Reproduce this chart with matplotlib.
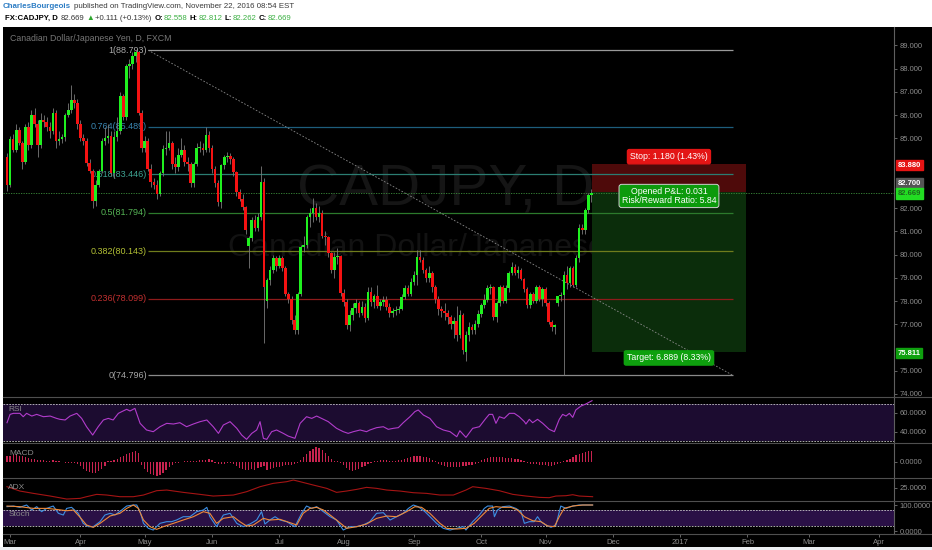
import numpy as np
import pandas as pd
import matplotlib
matplotlib.use('Agg')
import matplotlib.pyplot as plt
import matplotlib.transforms as mtrans
from matplotlib.patches import Rectangle

plt.rcParams['font.family'] = ['Liberation Sans', 'DejaVu Sans']

# ---------------- data ----------------
start_date = '2016-02-29'
opens = [84.20, 83.00, 84.95, 84.50, 85.35, 84.80, 84.00, 85.50, 84.70, 86.00,
         85.60, 84.70, 85.80, 85.70, 85.50, 85.30, 86.10, 84.90, 84.95, 85.05,
         86.00, 86.20, 86.65, 86.50, 85.60, 85.00, 84.90, 83.95, 83.60, 82.30,
         83.00, 83.60, 84.90, 85.00, 85.10, 83.50, 85.05, 85.30, 86.80, 85.90,
         88.10, 88.20, 88.55, 88.70, 86.10, 84.60, 84.90, 83.70, 83.10, 83.00,
         82.60, 83.50, 84.55, 84.60, 84.80, 83.90, 83.75, 84.30, 84.50, 84.00,
         83.90, 83.07, 83.90, 84.57, 84.60, 84.50, 85.14, 84.57, 83.70, 83.07,
         82.27, 83.85, 84.20, 84.25, 84.10, 83.56, 82.70, 82.40, 82.05, 80.35,
         80.70, 81.50, 81.14, 81.60, 83.13, 78.00, 78.90, 79.33, 79.85, 79.50,
         79.85, 79.40, 78.30, 78.10, 77.20, 76.77, 78.30, 80.33, 80.40, 81.62,
         81.80, 82.00, 81.60, 81.80, 80.80, 80.75, 80.06, 79.33, 79.90, 79.95,
         78.34, 77.97, 76.96, 77.40, 77.70, 77.90, 77.50, 77.75, 77.25, 78.40,
         77.95, 78.20, 77.80, 77.95, 78.05, 77.75, 77.50, 77.55, 77.60, 77.65,
         78.18, 78.56, 78.30, 78.83, 79.10, 79.90, 79.77, 79.33, 79.00, 79.20,
         78.60, 78.10, 77.66, 77.55, 77.47, 77.30, 77.00, 77.15, 76.53, 77.40,
         75.80, 76.53, 76.90, 76.75, 77.00, 77.46, 77.82, 78.05, 78.56, 78.60,
         77.30, 77.90, 78.60, 78.00, 78.56, 79.20, 79.47, 79.20, 79.35, 78.96,
         78.50, 77.82, 78.30, 78.00, 78.60, 78.10, 78.50, 77.90, 77.10, 76.88,
         77.90, 78.20, 78.26, 79.10, 78.77, 79.40, 78.70, 79.85, 81.14, 81.05,
         81.90, 82.558]
highs = [84.35, 85.10, 85.20, 85.60, 85.50, 84.90, 85.60, 85.70, 86.20, 86.30,
         85.80, 86.10, 86.00, 85.90, 85.70, 86.30, 86.20, 85.30, 85.20, 86.10,
         86.50, 87.30, 86.90, 86.70, 85.80, 85.20, 85.00, 84.10, 83.70, 83.20,
         83.70, 85.00, 85.50, 85.60, 85.30, 85.30, 85.90, 87.00, 86.90, 88.20,
         88.40, 88.70, 88.79, 88.75, 86.20, 85.10, 85.00, 83.90, 83.30, 83.20,
         83.60, 84.70, 85.30, 85.30, 84.90, 84.20, 84.60, 85.00, 84.70, 84.20,
         84.00, 84.00, 84.80, 84.90, 84.80, 85.50, 85.30, 84.70, 83.80, 83.20,
         83.90, 84.30, 84.40, 84.35, 84.20, 83.60, 82.80, 82.60, 82.10, 80.80,
         81.60, 81.70, 81.80, 83.80, 83.30, 79.00, 79.50, 80.00, 79.95, 80.00,
         79.95, 79.50, 78.40, 78.20, 77.40, 78.40, 80.40, 80.80, 81.70, 82.00,
         82.43, 82.20, 82.10, 81.90, 81.00, 80.80, 80.10, 80.10, 80.30, 80.00,
         78.50, 78.10, 77.60, 77.90, 78.10, 78.00, 78.00, 77.90, 78.60, 78.60,
         78.30, 78.70, 78.10, 78.20, 78.20, 77.90, 77.70, 77.80, 77.80, 78.30,
         78.70, 78.70, 79.00, 79.30, 80.20, 80.20, 79.90, 79.40, 79.50, 79.30,
         78.70, 78.20, 77.80, 77.90, 77.60, 77.40, 77.30, 77.80, 77.60, 77.50,
         76.70, 77.10, 77.00, 77.20, 77.60, 77.90, 78.30, 78.70, 78.75, 78.65,
         78.00, 78.70, 78.70, 78.70, 79.30, 79.70, 79.60, 79.50, 79.40, 79.00,
         78.60, 78.40, 78.40, 78.70, 78.70, 78.60, 78.60, 78.00, 77.20, 77.00,
         78.20, 78.40, 79.30, 79.50, 79.50, 79.50, 80.00, 81.30, 81.30, 82.00,
         82.65, 82.812]
lows = [82.75, 82.90, 84.40, 84.40, 84.70, 83.70, 83.90, 84.50, 84.60, 85.50,
        84.20, 84.60, 85.50, 85.30, 85.00, 85.20, 84.60, 84.70, 84.80, 84.90,
        85.90, 86.10, 86.30, 85.40, 84.90, 84.70, 83.80, 83.50, 82.00, 82.10,
        82.90, 83.50, 84.70, 84.80, 83.40, 83.30, 84.90, 85.20, 85.80, 85.80,
        87.60, 88.00, 88.30, 86.00, 84.40, 84.40, 83.60, 82.90, 82.80, 82.40,
        82.50, 83.40, 84.30, 84.50, 83.70, 83.50, 83.60, 84.20, 83.80, 83.60,
        82.90, 82.90, 83.80, 84.40, 84.30, 84.40, 84.40, 83.50, 82.90, 82.10,
        82.00, 83.70, 84.00, 83.90, 83.40, 82.50, 82.30, 81.90, 80.90, 79.40,
        80.60, 81.00, 81.00, 81.50, 76.20, 77.70, 78.70, 79.20, 79.30, 79.40,
        79.30, 78.20, 77.90, 77.00, 76.60, 76.60, 78.20, 80.10, 80.30, 81.20,
        81.40, 81.50, 81.40, 80.70, 80.40, 79.90, 79.20, 79.00, 79.60, 78.20,
        77.80, 76.80, 76.70, 77.20, 77.50, 77.30, 77.40, 77.10, 77.20, 77.80,
        77.70, 77.70, 77.60, 77.80, 77.60, 77.30, 77.30, 77.40, 77.50, 77.60,
        78.10, 78.20, 78.20, 78.70, 78.70, 79.70, 79.20, 78.80, 78.80, 78.40,
        77.90, 77.40, 77.30, 77.20, 77.00, 76.80, 76.40, 76.30, 76.40, 75.70,
        75.40, 76.30, 76.60, 76.60, 76.90, 77.30, 77.70, 77.95, 78.30, 77.20,
        77.10, 77.80, 77.90, 77.90, 78.40, 79.10, 79.10, 79.00, 78.90, 78.40,
        77.70, 77.70, 77.90, 77.90, 78.00, 77.80, 77.80, 77.00, 76.70, 76.60,
        77.80, 78.00, 74.796, 78.50, 78.60, 78.60, 78.60, 79.70, 80.90, 80.90,
        81.80, 82.262]
closes = [83.00, 84.95, 84.50, 85.35, 84.80, 84.00, 85.50, 84.70, 86.00, 85.60,
          84.70, 85.80, 85.70, 85.50, 85.30, 86.10, 84.90, 84.95, 85.05, 86.00,
          86.20, 86.65, 86.50, 85.60, 85.00, 84.90, 83.95, 83.60, 82.30, 83.00,
          83.60, 84.90, 85.00, 85.10, 83.50, 85.05, 85.30, 86.80, 85.90, 88.10,
          88.20, 88.55, 88.70, 86.10, 84.60, 84.90, 83.70, 83.10, 83.00, 82.60,
          83.50, 84.55, 84.60, 84.80, 83.90, 83.75, 84.30, 84.50, 84.00, 83.90,
          83.07, 83.90, 84.57, 84.60, 84.50, 85.14, 84.57, 83.70, 83.07, 82.27,
          83.85, 84.20, 84.25, 84.10, 83.56, 82.70, 82.40, 82.05, 81.05, 80.70,
          81.50, 81.14, 81.60, 83.13, 78.60, 78.90, 79.33, 79.85, 79.50, 79.85,
          79.40, 78.30, 78.10, 77.20, 76.77, 78.30, 80.33, 80.40, 81.62, 81.80,
          82.00, 81.60, 81.80, 80.80, 80.75, 80.06, 79.33, 79.90, 79.95, 78.34,
          77.97, 76.96, 77.40, 77.70, 77.90, 77.50, 77.75, 77.25, 78.40, 77.95,
          78.20, 77.80, 77.95, 78.05, 77.75, 77.50, 77.55, 77.60, 77.65, 78.18,
          78.56, 78.30, 78.83, 79.10, 79.90, 79.77, 79.33, 79.00, 79.20, 78.60,
          78.10, 77.66, 77.55, 77.47, 77.30, 77.00, 77.15, 76.53, 77.40, 75.90,
          76.53, 76.90, 76.75, 77.00, 77.46, 77.82, 78.05, 78.56, 78.60, 77.30,
          77.90, 78.60, 78.00, 78.56, 79.20, 79.47, 79.20, 79.35, 78.96, 78.50,
          77.82, 78.30, 78.00, 78.60, 78.10, 78.50, 77.90, 77.10, 76.88, 76.95,
          78.20, 78.26, 79.10, 78.77, 79.40, 78.70, 79.85, 81.14, 81.05, 81.90,
          82.558, 82.669]

fib_ratios = [1, 0.764, 0.618, 0.5, 0.382, 0.236, 0]
fib_prices = [88.793, 85.489, 83.446, 81.794, 80.143, 78.099, 74.796]
fib_line_colors = ['#9a9a9a', '#1d5d7c', '#2b7d72', '#2c7a2c', '#6f7c1c', '#8e1b1b', '#8a8a8a']
fib_text_colors = ['#a8a8a8', '#3a86b2', '#3ea392', '#55b455', '#b2bf34', '#c23030', '#a8a8a8']

last_price = 82.669
entry_price = 82.700
stop_price = 83.880
target_price = 75.811
open_pnl = 0.031

rsi_x = [0, 1, 2.1, 4.2, 5.3, 6.4, 8.1, 9.7, 11.9, 14.1,
         16.2, 17.3, 19, 20.6, 22.8, 24.4, 26, 28, 29.8, 31.5,
         33.1, 34.7, 36.4, 37.5, 39.1, 40.2, 41.8, 43.5, 45.6, 47.8,
         50, 52.2, 54.4, 56.5, 58.7, 60.9, 63.1, 65.3, 67.4, 69.1,
         70.7, 72.9, 75.1, 76.7, 78.3, 80, 81.6, 82.7, 83.8, 84.9,
         86.5, 88.1, 90.3, 91.9, 94.1, 95.8, 97.9, 99.6, 101.2, 102.8,
         105, 107.7, 109.9, 111.5, 113.2, 115.4, 117.5, 118.6, 120.8, 123,
         124.6, 126.3, 127.9, 129.5, 131.7, 133.3, 134.4, 136.1, 138.2, 140.4,
         142.6, 144.8, 147, 148, 150, 152.2, 154.4, 156.5, 157.6, 158.7,
         159.8, 160.9, 162.5, 164.2, 165.8, 167.4, 169.1, 169.6, 170.7, 171.8,
         173.4, 175.1, 177.2, 178.9, 180.5, 181.6, 182.7, 183.8, 184.9, 185.9,
         187.6, 189.2, 191.2]
rsi_v = [49.6, 58.5, 59.6, 59.6, 56.0, 59.6, 56.7, 58.5, 56.0, 56.7,
         54.2, 53.2, 52.5, 56.7, 59.6, 54.2, 45.3, 36.4, 45.3, 52.5,
         54.2, 52.5, 59.6, 61.4, 63.9, 62.1, 64.9, 48.9, 41.8, 40.0,
         45.3, 48.9, 48.2, 49.6, 45.3, 48.2, 50.7, 52.5, 45.3, 38.2,
         47.1, 50.7, 43.6, 36.4, 31.8, 38.2, 41.8, 50.7, 32.9, 31.8,
         40.0, 41.8, 38.2, 35.3, 32.9, 48.9, 56.0, 54.2, 56.7, 54.2,
         50.7, 43.6, 40.0, 38.2, 40.0, 41.8, 40.0, 41.8, 44.3, 45.3,
         42.5, 43.6, 44.3, 49.6, 56.0, 61.4, 63.2, 57.8, 54.2, 45.3,
         41.8, 40.0, 34.6, 41.0, 33.9, 43.6, 45.3, 54.2, 58.5, 58.5,
         48.9, 56.0, 54.2, 59.6, 59.6, 56.0, 50.7, 48.2, 53.2, 49.6,
         53.2, 48.9, 42.5, 40.0, 53.2, 58.5, 56.7, 59.6, 55.3, 63.2,
         67.4, 69.6, 73.1]

macd_hist = [0.12, 0.12, 0.14, 0.14, 0.12, 0.12, 0.10, 0.08, 0.06, 0.06,
             0.04, 0.04, 0.04, 0.02, 0.02, 0.04, 0.02, 0.02,
             -0.01, -0.02, -0.02, -0.03, -0.02, -0.04,
             -0.08, -0.14, -0.18, -0.20, -0.22, -0.22, -0.18, -0.14, -0.08,
             0.01, 0.02, 0.04, 0.06, 0.10, 0.12, 0.16, 0.18, 0.20, 0.22, 0.18,
             -0.06, -0.14, -0.20, -0.24, -0.26, -0.28, -0.26, -0.22, -0.16,
             -0.10, -0.06, -0.02, -0.02, -0.01, 0.01, 0.02, 0.01,
             0.02, 0.02, 0.04, 0.04, 0.04, 0.06, 0.04,
             -0.02, -0.04, -0.04, -0.04, -0.02, -0.02, -0.04,
             -0.08, -0.12, -0.14, -0.16, -0.16, -0.14, -0.16, -0.12, -0.10, -0.08, -0.16,
             -0.14, -0.12, -0.10, -0.10, -0.08, -0.06, -0.06, -0.06, -0.04, -0.02,
             0.04, 0.10, 0.16, 0.22, 0.26, 0.30, 0.28, 0.24, 0.18, 0.12, 0.06,
             0.02, 0.01, -0.02, -0.06,
             -0.12, -0.16, -0.18, -0.16, -0.14, -0.10, -0.08, -0.04, -0.02,
             0.02, 0.02, 0.04, 0.04, 0.04, 0.02, 0.02, 0.02, 0.04, 0.04,
             0.06, 0.08, 0.10, 0.12, 0.12, 0.12, 0.10, 0.10, 0.08, 0.04, 0.02,
             -0.04, -0.06, -0.08, -0.10, -0.10, -0.10, -0.10, -0.10, -0.08,
             -0.08, -0.06, -0.06, -0.04, -0.02,
             0.04, 0.06, 0.08, 0.10, 0.10, 0.10, 0.10, 0.10, 0.08, 0.08, 0.08, 0.06, 0.06, 0.04,
             0.01, -0.02, -0.04, -0.04, -0.04, -0.06, -0.06,
             -0.06, -0.08, -0.08, -0.06, -0.04, -0.02,
             0.02, 0.04, 0.06, 0.10, 0.14, 0.16, 0.18, 0.20, 0.22, 0.22]

adx_x = [0, 4.2, 8.6, 14.1, 19.5, 23.9, 26, 29.3, 32.6, 36.9,
         41.3, 44.6, 48.9, 52.2, 57.6, 63.1, 67.4, 74, 78.3, 82.7,
         87, 91.4, 93.6, 95.8, 100.1, 104.5, 107.7, 111, 114.3, 117.5,
         120.8, 124.1, 128.4, 132.8, 137.1, 141.5, 145.9, 150, 152.2, 156.5,
         160.9, 165.3, 169.6, 174, 177.2, 179.4, 182.7, 184.9, 187, 191.4]
adx_v = [26.5, 20.0, 16.5, 12.5, 8.0, 9.0, 11.5, 15.0, 14.0, 11.5,
         11.5, 14.0, 20.5, 21.5, 18.0, 15.0, 12.5, 14.0, 19.0, 26.5,
         31.5, 34.0, 36.5, 34.0, 29.0, 24.0, 18.0, 20.0, 22.5, 25.5,
         24.0, 21.5, 20.0, 17.5, 16.5, 14.0, 14.0, 21.5, 26.5, 24.0,
         20.5, 15.0, 12.5, 10.5, 10.0, 12.5, 13.0, 14.5, 12.5, 11.5]

stoch_k_x = [0, 2.1, 4.2, 6.4, 8.1, 9.7, 11.3, 13, 15.1, 16.8,
             18.4, 19.5, 21.1, 23.3, 24.9, 26.6, 28.2, 30.4, 32, 33.7,
             35.3, 37.5, 39.1, 41.3, 42.4, 43.5, 44.6, 46.2, 47.8, 50,
             52.2, 53.8, 55.4, 57.6, 59.8, 62, 64.2, 65.3, 66.3, 68.5,
             70.7, 72.9, 75.1, 77.2, 79.4, 81.6, 83.2, 84.3, 85.9, 87.6,
             89.2, 91.4, 94.1, 96.3, 97.9, 99.6, 101.2, 103.4, 105.6, 107.7,
             109.9, 112.1, 114.3, 116.4, 118.6, 120.8, 123, 125.2, 127.3, 129.5,
             131.2, 132.8, 134.4, 136.6, 138.8, 140.4, 142.6, 144.8, 147, 149.1,
             150, 152.2, 154.4, 156, 157.1, 158.7, 159.3, 160.3, 162, 164.2,
             166.3, 168, 169.1, 170.7, 172.3, 173.4, 174.5, 176.1, 177.8, 179.4,
             181, 182.7, 184.9, 187, 189.2, 191.4]
stoch_k_v = [93.6, 96, 91, 100, 80.8, 93.6, 74.4, 87, 96, 68,
             61.5, 87, 91, 68, 29.5, 16.7, 16.7, 35.9, 61.5, 68,
             61.5, 80.8, 96, 100, 100, 74.4, 29.5, 10.3, 3.8, 29.5,
             35.9, 35.9, 42.3, 55, 55, 74.4, 80.8, 91, 55, 16.7,
             61.5, 68, 29.5, 16.7, 26.9, 42.3, 74.4, 26.9, 42.3, 55,
             42.3, 35.9, 16.7, 68, 96, 87, 93.6, 74.4, 55, 42.3,
             3.8, 16.7, 16.7, 23, 35.9, 68, 70.5, 42.3, 55, 68,
             87, 100, 93.6, 74.4, 48.7, 29.5, 10.3, 3.8, 10.3, 16.7,
             3.8, 35.9, 61.5, 87, 96, 96, 55, 80.8, 93.6, 96,
             87, 74.4, 29.5, 35.9, 35.9, 55, 35.9, 23, 14.1, 23,
             96, 87, 96, 100, 100, 100]
stoch_d_x = [0, 4.2, 8.6, 13, 16.2, 19.5, 21.7, 23.9, 26, 28.2,
             30.4, 33.7, 36.9, 39.1, 41.3, 42.9, 44.6, 46.7, 48.9, 51.1,
             54.4, 57.6, 60.9, 64.2, 66.3, 68.5, 70.7, 74, 76.1, 78.3,
             80.5, 83.8, 85.9, 89.2, 92.5, 94.7, 96.8, 99, 101.2, 103.4,
             105.6, 107.7, 111, 114.3, 117.5, 120.8, 124.1, 127.3, 130.6, 133.3,
             135.5, 138.2, 141.5, 143.7, 147, 150, 152.7, 155.4, 157.6, 159.8,
             162, 164.7, 166.9, 169.1, 171.8, 174.5, 176.7, 178.9, 180.5, 182.1,
             184.9, 188.1, 191.4]
stoch_d_v = [96, 93.6, 87, 87, 83, 78, 80.8, 52.6, 23, 14.1,
             29.5, 57.7, 68, 87, 100, 87, 42.3, 16.7, 6.4, 16.7,
             29.5, 42.3, 55, 74.4, 68, 29.5, 48.7, 55, 35.9, 19.2,
             23, 48.7, 42.3, 44.9, 32, 23, 68, 87, 91, 80.8,
             61.5, 42.3, 10.3, 16.7, 26.9, 48.7, 57.7, 55, 74.4, 93.6,
             91, 68, 29.5, 10.3, 7.7, 10.3, 29.5, 61.5, 87, 93.6,
             91, 91, 80.8, 55, 39.7, 35.9, 19.2, 16.7, 55, 87,
             96, 100, 100]

month_labels = ['Mar', 'Apr', 'May', 'Jun', 'Jul', 'Aug', 'Sep', 'Oct', 'Nov',
                'Dec', '2017', 'Feb', 'Mar', 'Apr']

# ---------------- layout helpers ----------------
W, H = 932, 550
fig = plt.figure(figsize=(W / 100, H / 100), dpi=100, facecolor='white')

days = pd.bdate_range(start_date, '2017-04-30')
month_starts = pd.date_range('2016-03-01', '2017-04-01', freq='MS')
month_pos = np.searchsorted(days.values, month_starts.values)
XL = (-1.31, 289.9)
GRAY = '#8c8c8c'


def pixel_axes(zorder):
    a = fig.add_axes([0, 0, 1, 1], zorder=zorder)
    a.set_xlim(0, W)
    a.set_ylim(H, 0)
    a.set_axis_off()
    a.patch.set_visible(False)
    return a


def panel(y0, y1):
    a = fig.add_axes([3 / W, 1 - y1 / H, 891 / W, (y1 - y0) / H], zorder=2)
    a.set_facecolor('black')
    a.set_xlim(XL)
    for s in ['left', 'top', 'bottom']:
        a.spines[s].set_visible(False)
    a.spines['right'].set_color('#5f5f5f')
    a.yaxis.tick_right()
    a.tick_params(axis='y', colors=GRAY, labelsize=5.5, length=2.5, width=0.5, pad=1.5)
    a.tick_params(axis='x', bottom=False, labelbottom=False)
    return a


back = pixel_axes(0)
back.add_patch(Rectangle((3, 27), W - 3, 520, color='black', lw=0))
back.add_patch(Rectangle((0, 547), W, 3, color='#eceff2', lw=0))

# ---------------- main price panel ----------------
ax = panel(27, 397)
ax.set_ylim(73.87, 89.79)
main_ticks = [74, 75, 77, 78, 79, 80, 81, 82, 85, 86, 87, 88, 89]
ax.set_yticks(main_ticks)
ax.set_yticklabels([f'{v:.3f}' for v in main_ticks])

ax.text(0.497, 0.557, 'CADJPY, D', transform=ax.transAxes, ha='center', va='center',
        fontsize=42, color='#151515', zorder=1)
ax.text(0.499, 0.403, 'Canadian Dollar/Japanese Yen', transform=ax.transAxes, ha='center',
        va='center', fontsize=23, color='#121212', zorder=1)
ax.text(0.008, 0.97, 'Canadian Dollar/Japanese Yen, D, FXCM', transform=ax.transAxes,
        ha='left', va='center', fontsize=6.3, color='#777777')

# position tool
pos_x0, pos_x1 = 191.2, 241.5
ax.add_patch(Rectangle((pos_x0, entry_price), pos_x1 - pos_x0, stop_price - entry_price,
                       color='#4e0a0a', lw=0, zorder=2))
ax.add_patch(Rectangle((pos_x0, target_price), pos_x1 - pos_x0, entry_price - target_price,
                       color='#0b2d0b', lw=0, zorder=2))

# fib retracement
fx0, fx1 = 46.1, 237.3
for r, p, lc, tc in zip(fib_ratios, fib_prices, fib_line_colors, fib_text_colors):
    ax.hlines(p, fx0, fx1, color=lc, lw=0.9, zorder=3)
    ax.text(fx0 - 0.4, p, f'{r:g}({p:.3f})', ha='right', va='center', fontsize=6.5,
            color=tc, zorder=3)
ax.plot([fx0, fx1], [fib_prices[0], fib_prices[-1]], color='#8a8a8a', lw=0.6,
        ls=(0, (2, 2)), zorder=3)

ax.axhline(last_price, color='#3c8f3c', lw=0.6, ls=(0, (1.5, 1.5)), zorder=3)

# candles
o = np.array(opens)
c = np.array(closes)
xs = np.arange(len(c))
up = c >= o
ax.vlines(xs, lows, highs, color='#7a7a7a', lw=0.6, zorder=4)
ax.bar(xs, np.maximum(np.abs(c - o), 0.04), bottom=np.minimum(o, c), width=0.86,
       color=np.where(up, '#1ff01f', '#f51212'), lw=0, zorder=5)

# position labels
stop_d = stop_price - entry_price
tgt_d = entry_price - target_price
mid_x = (pos_x0 + pos_x1) / 2
ax.text(mid_x, 84.21, f'Stop: {stop_d:.3f} ({stop_d / entry_price * 100:.2f}%)', ha='center',
        va='center', fontsize=6.3, color='white', zorder=7,
        bbox=dict(boxstyle='round,pad=0.3,rounding_size=0.2', fc='#e31515', ec='#e31515'))
ax.text(mid_x, 82.52, f'Opened P&L: {open_pnl:.3f}\nRisk/Reward Ratio: {tgt_d / stop_d:.2f}',
        ha='center', va='center', fontsize=6.3, color='white', zorder=7, linespacing=1.0,
        bbox=dict(boxstyle='round,pad=0.3,rounding_size=0.3', fc='#0c9a0c', ec='#d0d0d0', lw=0.7))
ax.text(mid_x, 75.55, f'Target: {tgt_d:.3f} ({tgt_d / entry_price * 100:.2f}%)', ha='center',
        va='center', fontsize=6.3, color='white', zorder=7,
        bbox=dict(boxstyle='round,pad=0.3,rounding_size=0.2', fc='#0ea00e', ec='#0ea00e'))

# price flags on the right scale (stacked so they do not cover each other)
flag_tr = mtrans.blended_transform_factory(ax.transAxes, ax.transData)
for val, at, fc, tcol in [(stop_price, 83.85, '#e61414', 'white'),
                          (entry_price, 83.07, '#555555', 'white'),
                          (last_price, 82.64, '#22dd22', '#1d6a1d'),
                          (target_price, 75.76, '#0fa00f', 'white')]:
    ax.text(1.004, at, f'{val:.3f}', transform=flag_tr, ha='left', va='center',
            fontsize=5.5, color=tcol, fontweight='bold', clip_on=False, zorder=8,
            bbox=dict(boxstyle='square,pad=0.25', fc=fc, ec=fc))

# ---------------- RSI ----------------
ax_rsi = panel(397, 443)
ax_rsi.set_ylim(27.9, 77.06)
ax_rsi.axhspan(30, 70, color='#1c0c30', lw=0)
for lv in (70, 30):
    ax_rsi.axhline(lv, color='#c8c8c8', lw=0.6, ls=(0, (2, 1.5)))
ax_rsi.plot(rsi_x, rsi_v, color='#b23ccc', lw=0.8)
ax_rsi.set_yticks([40, 60])
ax_rsi.set_yticklabels(['40.0000', '60.0000'])
ax_rsi.text(0.006, 0.72, 'RSI', transform=ax_rsi.transAxes, fontsize=6, color='#8a8a8a', va='center')

# ---------------- MACD ----------------
ax_macd = panel(443, 478)
ax_macd.set_ylim(-0.326, 0.374)
ax_macd.text(0.007, 0.7, 'MACD', transform=ax_macd.transAxes, fontsize=6, color='#8a8a8a', va='center')
ax_macd.bar(np.arange(len(macd_hist)), macd_hist, width=0.4, color='#c8234f', lw=0)
ax_macd.set_yticks([0])
ax_macd.set_yticklabels(['0.0000'])

# ---------------- ADX ----------------
ax_adx = panel(478, 501)
ax_adx.set_ylim(5.05, 39.55)
ax_adx.plot(adx_x, adx_v, color='#a51414', lw=0.8)
ax_adx.set_yticks([25])
ax_adx.set_yticklabels(['25.0000'])
ax_adx.text(0.006, 0.57, 'ADX', transform=ax_adx.transAxes, fontsize=6, color='#8a8a8a', va='center')

# ---------------- Stoch ----------------
ax_st = panel(501, 534)
ax_st.set_ylim(-11.5, 115.4)
ax_st.axhspan(20, 80, color='#2a1046', lw=0)
for lv in (80, 20):
    ax_st.axhline(lv, color='#c8c8c8', lw=0.6, ls=(0, (2, 1.5)))
ax_st.plot(stoch_k_x, stoch_k_v, color='#3d8fe3', lw=0.8)
ax_st.plot(stoch_d_x, stoch_d_v, color='#ef8a3a', lw=0.8)
ax_st.set_yticks([0, 100])
ax_st.set_yticklabels(['0.0000', '100.0000'])
ax_st.text(0.006, 0.6, 'Stoch', transform=ax_st.transAxes, fontsize=6, color='#8a8a8a', va='center')
ax_st.set_xticks(month_pos)
ax_st.set_xticklabels(month_labels)
ax_st.tick_params(axis='x', bottom=True, labelbottom=True, colors=GRAY, labelsize=5.5,
                  length=2, width=0.5, pad=1.5)

# ---------------- overlay: separators and header ----------------
top = pixel_axes(20)
for yy in (397, 443, 478, 501, 534):
    top.plot([3, W], [yy, yy], color='#4f4f4f', lw=0.8)

renderer = fig.canvas.get_renderer()


def text_row(x, y, parts, size):
    # place pieces one after another, measuring each drawn width
    for txt, col, wt, gap in parts:
        t = top.text(x, y, txt, fontsize=size, color=col, fontweight=wt, va='center',
                     family=['Liberation Sans', 'DejaVu Sans'])
        x += t.get_window_extent(renderer).width + gap


text_row(3, 7, [('CharlesBourgeois', '#2b7cc4', 'bold', 2.5),
                ('published on TradingView.com, November 22, 2016 08:54 EST', '#3a3a3a', 'normal', 0)],
         5.7)
text_row(5, 18.5, [('FX:CADJPY, D', 'black', 'bold', 3),
                   ('82.669', '#333333', 'normal', 1.5),
                   ('\u25b2', '#2ea62e', 'normal', 1.5),
                   ('+0.111 (+0.13%)', '#333333', 'normal', 3),
                   ('O:', 'black', 'bold', 0.3), ('82.558', '#3cb043', 'normal', 2.5),
                   ('H:', 'black', 'bold', 0.3), ('82.812', '#3cb043', 'normal', 2.5),
                   ('L:', 'black', 'bold', 0.3), ('82.262', '#3cb043', 'normal', 2.5),
                   ('C:', 'black', 'bold', 0.3), ('82.669', '#3cb043', 'normal', 0)],
         5.6)

fig.savefig('out.png', dpi=100, facecolor=fig.get_facecolor())
